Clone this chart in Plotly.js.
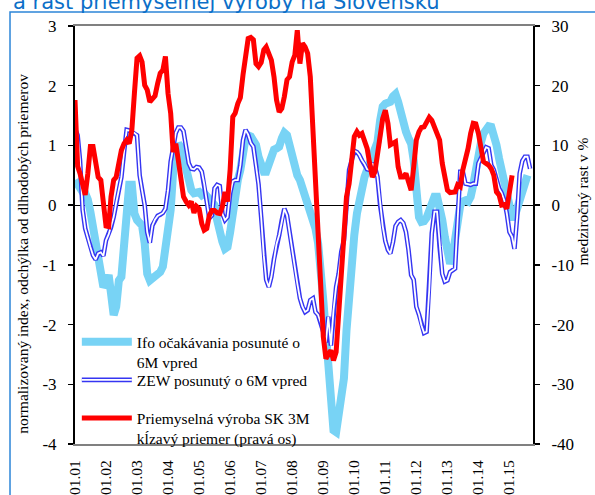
<!DOCTYPE html>
<html>
<head>
<meta charset="utf-8">
<script src="https://cdn.plot.ly/plotly-3.0.1.min.js"></script>
<style>
  html, body { margin: 0; padding: 0; background: #ffffff; }
  #chart { width: 595px; height: 495px; }
</style>
</head>
<body>
<div id="chart"></div>
<script>
// ---- Data (monthly) ----
const seriesStart = "2001-01";

const ifoName = "Ifo očakávania posunuté o<br>6M vpred";
const zewName = "ZEW posunutý o 6M vpred";
const ipName = "Priemyselná výroba SK 3M<br>kĺzavý priemer (pravá os)";

// Ifo expectations shifted 6M forward (left axis), from 2001-01
const ifoValues = [
  0.42, 0.34, 0.25, 0.22, 0.2, 0.09, -0.11, -0.36, -0.56, -0.81,
  -1.2, -1.37, -1.31, -1.17, -1.48, -1.84, -1.7, -1.26, -1.2, -0.75,
  -0.03, 0.34, 0.34, -0.14, -0.25, -0.28, -0.34, -0.64, -1.15, -1.26,
  -1.23, -1.2, -1.17, -1.12, -1.03, -0.7, -0.53, -0.08, 0.56, 0.89,
  1.03, 0.97, 0.75, 0.53, 0.34, 0.25, 0.2, 0.21, 0.22, 0.17,
  0.2, 0.15, 0.11, 0.06, 0.0, -0.25, -0.53, -0.61, -0.73, -0.7,
  -0.45, -0.08, 0.2, 0.42, 0.59, 0.87, 1.12, 1.17, 1.15, 1.08,
  1.01, 0.81, 0.67, 0.56, 0.56, 0.67, 0.84, 0.93, 0.95, 0.98,
  1.12, 1.21, 1.17, 0.98, 0.84, 0.67, 0.5, 0.42, 0.28, 0.2,
  0.08, -0.06, -0.22, -0.39, -0.64, -1.03, -1.59, -2.15, -2.68, -3.27,
  -3.77, -3.8, -3.44, -3.21, -2.9, -2.1, -1.4, -0.85, -0.5, -0.14,
  0.11, 0.34, 0.47, 0.59, 0.73, 0.84, 0.92, 1.06, 1.42, 1.65,
  1.7, 1.72, 1.73, 1.82, 1.86, 1.73, 1.51, 1.4, 1.23, 1.12,
  1.03, 0.75, 0.08, -0.2, -0.28, -0.27, -0.21, -0.08, 0.06, 0.14,
  0.14, 0.0, -0.25, -0.53, -0.81, -0.98, -0.87, -0.53, -0.14, 0.0,
  0.06, 0.08, 0.06, 0.14, 0.34, 0.64, 0.87, 1.06, 1.2, 1.3,
  1.32, 1.31, 1.19, 1.01, 0.78, 0.59, 0.39, 0.14, -0.11, -0.2,
  -0.2, -0.06, 0.08, 0.25, 0.42, 0.5
];

// ZEW shifted 6M forward (left axis), from 2001-01
const zewValues = [
  1.28, 1.17, 0.75, -0.08, -0.39, -0.56, -0.7, -0.84, -0.91, -0.81,
  -0.79, -0.85, -0.59, -0.49, -0.37, -0.2, 0.04, 0.28, 0.47, 0.89,
  1.26, 1.25, 1.23, 1.21, 1.17, 0.5, 0.25, 0.0, -0.45, -0.63,
  -0.34, -0.24, -0.18, -0.16, -0.13, -0.06, 0.25, 0.73, 0.95, 1.21,
  1.3, 1.3, 1.24, 0.95, 0.7, 0.61, 0.6, 0.64, 0.63, 0.56,
  0.36, 0.06, -0.22, -0.17, 0.28, 0.34, 0.32, -0.14, -0.25, -0.2,
  0.2, 0.4, 0.42, 0.42, 0.67, 1.09, 1.26, 1.18, 1.04, 0.98,
  0.67, 0.35, -0.2, -0.85, -1.25, -1.37, -1.2, -0.9, -0.65, -0.5,
  -0.25, -0.06, -0.17, -0.47, -0.75, -1.01, -1.31, -1.56, -1.7, -1.79,
  -1.76, -1.59, -1.56, -1.79, -1.84, -1.96, -2.12, -2.3, -1.87, -2.35,
  -1.76, -1.37, -1.15, -0.78, -0.59, 0.06, 0.59, 0.75, 0.91, 0.89,
  0.84, 0.75, 0.69, 0.6, 0.59, 0.7, 0.64, 0.47, 0.0, -0.35,
  -0.6, -0.75, -0.81, -0.62, -0.35, -0.28, -0.25, -0.3, -0.45, -0.75,
  -1.17, -1.25, -1.7, -1.83, -2.01, -2.14, -2.12, -1.42, -0.47, -0.11,
  -0.11, -0.7, -1.15, -1.28, -1.26, -1.12, -1.09, -1.06, -0.25, 0.56,
  0.56, 0.36, 0.35, 0.34, 0.36, 0.36, 0.7, 0.8, 0.89, 0.97,
  0.95, 0.67, 0.59, 0.42, 0.28, 0.2, 0.08, -0.14, -0.45, -0.53,
  -0.73, -0.2, 0.53, 0.74, 0.81, 0.81, 0.61
];

// Industrial production SK, 3M moving average, y/y % (right axis), from 2001-01
const ipValues = [
  17.6, 6.5, 5.3, 3.1, 1.7, 5.3, 9.8, 9.8, 6.4, 4.7,
  4.2, 0.8, -3.5, -3.6, 1.4, 4.2, 4.7, 7.0, 9.2, 10.3,
  10.9, 10.3, 12.6, 18.7, 24.6, 25.0, 24.0, 20.1, 19.3, 17.3,
  17.7, 18.3, 20.4, 22.1, 22.6, 24.9, 18.7, 15.4, 8.9, 10.3,
  7.5, 4.7, 1.4, 0.6, 0.0, 0.6, -1.3, -0.2, -0.6, -3.1,
  -4.2, -3.9, -1.7, -0.9, -0.9, -1.3, -1.4, -0.3, 2.2, 0.6,
  6.0, 14.8, 15.4, 17.0, 18.0, 21.8, 25.7, 27.9, 28.1, 27.7,
  23.7, 23.2, 23.9, 26.0, 26.5, 25.4, 24.3, 21.5, 17.6, 15.6,
  16.2, 18.2, 21.0, 21.5, 24.0, 25.1, 29.3, 23.7, 27.1, 26.5,
  25.4, 21.5, 12.6, 3.1, -5.3, -14.2, -22.0, -25.7, -24.9, -24.3,
  -26.0, -24.6, -18.2, -10.5, -3.0, 1.4, 3.6, 7.5, 11.5, 12.3,
  11.7, 12.0, 10.4, 9.5, 7.0, 4.7, 5.6, 8.9, 12.6, 14.5,
  15.9, 13.7, 10.1, 10.3, 10.6, 6.4, 4.7, 4.7, 5.3, 3.9,
  2.5, 6.4, 10.9, 12.3, 13.0, 13.1, 14.0, 14.7, 14.2, 13.1,
  11.5, 10.9, 7.0, 4.5, 2.5, 2.1, 2.1, 2.2, 3.4, 3.1,
  5.9, 7.5, 9.5, 12.0, 13.7, 13.6, 12.0, 9.5, 7.3, 7.0,
  6.7, 6.1, 5.0, 2.2, 1.7, 0.0, 0.1, -0.6, 2.5, 5.0
];

const leftTicks = [-4, -3, -2, -1, 0, 1, 2, 3];
const rightTicks = [-40, -30, -20, -10, 0, 10, 20, 30];

const titleText = "a rast priemyselnej výroby na Slovensku";
const leftAxisTitle = "normalizovaný index, odchýlka od dlhodobých priemerov";
const rightAxisTitle = "medziročný rast v %";

// ---- helpers ----
function monthDates(start, n) {
  const [y0, m0] = start.split("-").map(Number);
  const out = [];
  for (let i = 0; i < n; i++) {
    const t = (m0 - 1) + i;
    const y = y0 + Math.floor(t / 12);
    const m = (t % 12) + 1;
    out.push(y + "-" + String(m).padStart(2, "0") + "-01");
  }
  return out;
}

const ifoX = monthDates(seriesStart, ifoValues.length);
const zewX = monthDates(seriesStart, zewValues.length);
const ipX = monthDates(seriesStart, ipValues.length);

const serif = "Liberation Serif, Times New Roman, serif";
const legendFont = { family: serif, size: 15.5, color: "#000000" };

function legendBox(yTop) {
  return {
    x: 0.004, y: yTop, xanchor: "left", yanchor: "top",
    bgcolor: "rgba(0,0,0,0)", borderwidth: 0,
    font: legendFont, valign: "top", itemwidth: 50
  };
}

const traces = [
  {
    x: ifoX, y: ifoValues, type: "scatter", mode: "lines",
    name: ifoName, yaxis: "y", legend: "legend",
    line: { color: "#78D3F5", width: 8 },
    hoverinfo: "skip"
  },
  {
    x: zewX, y: zewValues, type: "scatter", mode: "lines",
    name: zewName, yaxis: "y", legend: "legend2",
    line: { color: "#3535F2", width: 4.6 },
    hoverinfo: "skip"
  },
  {
    x: zewX, y: zewValues, type: "scatter", mode: "lines",
    name: "&nbsp;", yaxis: "y", legend: "legend4",
    line: { color: "#FFFFFF", width: 1.8 },
    hoverinfo: "skip"
  },
  {
    x: ipX, y: ipValues, type: "scatter", mode: "lines",
    name: ipName, yaxis: "y2", legend: "legend3",
    line: { color: "#FF0000", width: 5 },
    hoverinfo: "skip"
  }
];

const tickFont = { family: serif, size: 17, color: "#000000" };

const layout = {
  width: 595, height: 495,
  margin: { l: 75, r: 62, t: 26, b: 51 },
  paper_bgcolor: "#FFFFFF",
  plot_bgcolor: "#FFFFFF",
  showlegend: true,
  legend: legendBox(0.284),
  legend2: legendBox(0.193),
  legend4: legendBox(0.193),
  legend3: legendBox(0.102),
  xaxis: {
    type: "date",
    range: ["2001-01-01", "2015-10-05"],
    tick0: "2001-01-01", dtick: "M12",
    tickformat: "%m.%y",
    tickangle: -90,
    tickfont: { family: serif, size: 15.5, color: "#000000" },
    ticks: "", ticklabelstandoff: 8,
    showgrid: false, zeroline: false,
    showline: true, mirror: true, linecolor: "#808080", linewidth: 2
  },
  yaxis: {
    range: [-4, 3], tickvals: leftTicks, ticktext: leftTicks.map(String),
    tickfont: tickFont,
    ticks: "outside", ticklen: 5, tickwidth: 1.5, tickcolor: "#000000",
    ticklabelstandoff: 8,
    showgrid: false,
    zeroline: true, zerolinecolor: "#000000", zerolinewidth: 1,
    showline: true, linecolor: "#000000", linewidth: 2
  },
  yaxis2: {
    range: [-40, 30], tickvals: rightTicks, ticktext: rightTicks.map(String),
    overlaying: "y", side: "right", anchor: "x",
    tickfont: tickFont,
    ticks: "outside", ticklen: 5, tickwidth: 1.5, tickcolor: "#000000",
    ticklabelstandoff: 8,
    showgrid: false, zeroline: false,
    showline: true, linecolor: "#000000", linewidth: 2
  },
  yaxis3: {
    range: [-4, 3], tickvals: leftTicks, showticklabels: false,
    overlaying: "y", side: "left", anchor: "x",
    ticks: "inside", ticklen: 5, tickwidth: 1.5, tickcolor: "#000000",
    showgrid: false, zeroline: false, showline: false
  },
  yaxis4: {
    range: [-40, 30], tickvals: rightTicks, showticklabels: false,
    overlaying: "y", side: "right", anchor: "x",
    ticks: "inside", ticklen: 5, tickwidth: 1.5, tickcolor: "#000000",
    showgrid: false, zeroline: false, showline: false
  },
  shapes: [
    {
      type: "rect", xref: "paper", yref: "paper",
      x0: -0.1419, x1: 1.3, y0: -0.3, y1: 1.0335,
      line: { color: "#2C85D8", width: 1.5 }, fillcolor: "rgba(0,0,0,0)",
      layer: "below"
    }
  ],
  annotations: [
    {
      text: titleText, xref: "paper", yref: "paper",
      x: -0.1397, y: 1.058, xanchor: "left", yanchor: "middle",
      showarrow: false,
      font: { family: "DejaVu Sans, Verdana, sans-serif", size: 21, color: "#0B6FC8" }
    },
    {
      text: leftAxisTitle, xref: "paper", yref: "paper",
      x: -0.1135, y: 0.455, xanchor: "center", yanchor: "middle",
      textangle: -90, showarrow: false,
      font: { family: serif, size: 15.5, color: "#000000" }
    },
    {
      text: rightAxisTitle, xref: "paper", yref: "paper",
      x: 1.109, y: 0.58, xanchor: "center", yanchor: "middle",
      textangle: -90, showarrow: false,
      font: { family: serif, size: 15.5, color: "#000000" }
    }
  ]
};

Plotly.newPlot("chart", traces, layout, { staticPlot: true, displayModeBar: false });
</script>
</body>
</html>
